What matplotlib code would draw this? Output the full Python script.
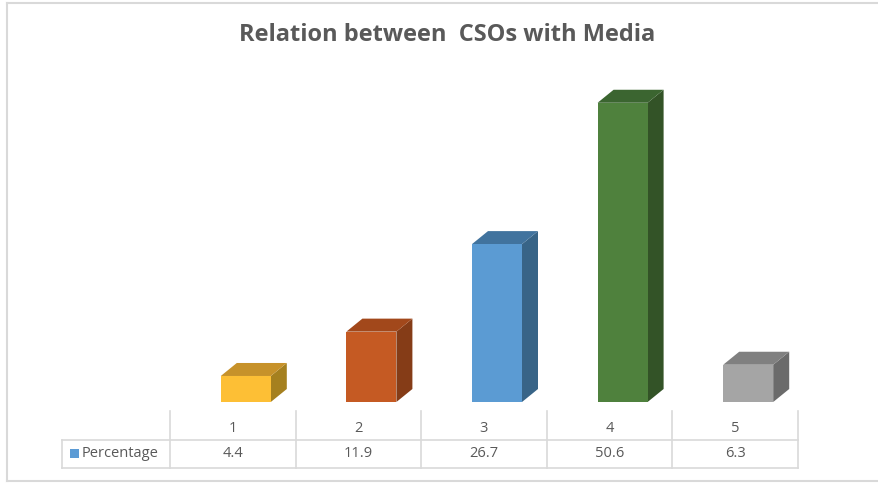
import matplotlib
matplotlib.use("Agg")
import matplotlib.pyplot as plt
from matplotlib.patches import Polygon, Rectangle
from matplotlib.lines import Line2D

# Data
categories = ["1", "2", "3", "4", "5"]
percentage = [4.4, 11.9, 26.7, 50.6, 6.3]
series_name = "Percentage"
title = "Relation between  CSOs with Media"

front_colors = ["#FDBF35", "#C55A23", "#5B9BD3", "#4F813D", "#A5A5A5"]
side_colors = ["#A5801F", "#853C17", "#386487", "#335327", "#6B6B6B"]
top_colors = ["#C7922A", "#A2481B", "#41739E", "#3B6530", "#808080"]

W, H = 879, 485
fig = plt.figure(figsize=(W / 100, H / 100), dpi=100)
fig.patch.set_facecolor("white")

FONT = ["Open Sans", "DejaVu Sans"]
TXT = "#595959"
GRID = "#D9D9D9"

# pixel helpers (origin at top-left)
def fx(px):
    return px / W

def fy(py):
    return 1 - py / H

# bar plotting area: columns span 170..798 px, floor at 403 px
left_px, right_px, floor_px, top_px = 170, 798, 403, 60
ax = fig.add_axes([fx(left_px), fy(floor_px), (right_px - left_px) / W,
                   (floor_px - top_px) / H])
ax.set_xlim(-0.5, len(categories) - 0.5)
ymax = 58
ax.set_ylim(0, ymax)
ax.axis("off")

px_per_x = (right_px - left_px) / len(categories)
px_per_y = (floor_px - top_px) / ymax
depth_x = 16 / px_per_x
depth_y = 13 / px_per_y
bar_w = 50 / px_per_x
shift = 13 / px_per_x

xs = [i + shift for i in range(len(categories))]
ax.bar(xs, percentage, width=bar_w, color=front_colors, edgecolor="none", zorder=3)
for x, v, sc, tc in zip(xs, percentage, side_colors, top_colors):
    x0, x1 = x - bar_w / 2, x + bar_w / 2
    side = Polygon([(x1, 0), (x1 + depth_x, depth_y), (x1 + depth_x, v + depth_y), (x1, v)],
                   closed=True, facecolor=sc, edgecolor="none", zorder=2)
    top = Polygon([(x0, v), (x0 + depth_x, v + depth_y), (x1 + depth_x, v + depth_y), (x1, v)],
                  closed=True, facecolor=tc, edgecolor="none", zorder=2)
    ax.add_patch(side)
    ax.add_patch(top)

# overlay in pixel coordinates for frame, title and data table
ov = fig.add_axes([0, 0, 1, 1], zorder=5)
ov.set_xlim(0, W)
ov.set_ylim(H, 0)
ov.axis("off")
ov.patch.set_alpha(0)

# chart frame
frame_col = "#D9D9D9"
ov.add_line(Line2D([7, W], [4, 4], color=frame_col, lw=1.5))
ov.add_line(Line2D([7, W], [482, 482], color=frame_col, lw=1.5))
ov.add_line(Line2D([7, 7], [4, 482], color=frame_col, lw=1.5))

ov.text(447, 35, title, ha="center", va="center", fontsize=17,
        fontweight="bold", color=TXT, family=FONT)

# data table
row_top, row_mid, row_bot = 412, 441, 469
key_left = 62
bounds = [left_px + i * px_per_x for i in range(len(categories) + 1)]
for b in bounds:
    ov.add_line(Line2D([b, b], [row_top, row_bot], color=GRID, lw=1.2))
ov.add_line(Line2D([key_left, key_left], [row_mid, row_bot], color=GRID, lw=1.2))
ov.add_line(Line2D([key_left, right_px], [row_mid, row_mid], color=GRID, lw=1.2))
ov.add_line(Line2D([key_left, right_px], [row_bot, row_bot], color=GRID, lw=1.2))

TS = 10.5
for i, (c, v) in enumerate(zip(categories, percentage)):
    cx = (bounds[i] + bounds[i + 1]) / 2
    ov.text(cx, 429, c, ha="center", va="center",
            fontsize=TS, color=TXT, family=FONT)
    ov.text(cx, 454, f"{v}", ha="center", va="center",
            fontsize=TS, color=TXT, family=FONT)

ov.add_patch(Rectangle((70, 450), 9, 9, facecolor="#5B9BD5", edgecolor="none"))
ov.text(82, 454, series_name, ha="left", va="center",
        fontsize=TS, color=TXT, family=FONT)

fig.savefig("out.png", dpi=100, facecolor="white")
